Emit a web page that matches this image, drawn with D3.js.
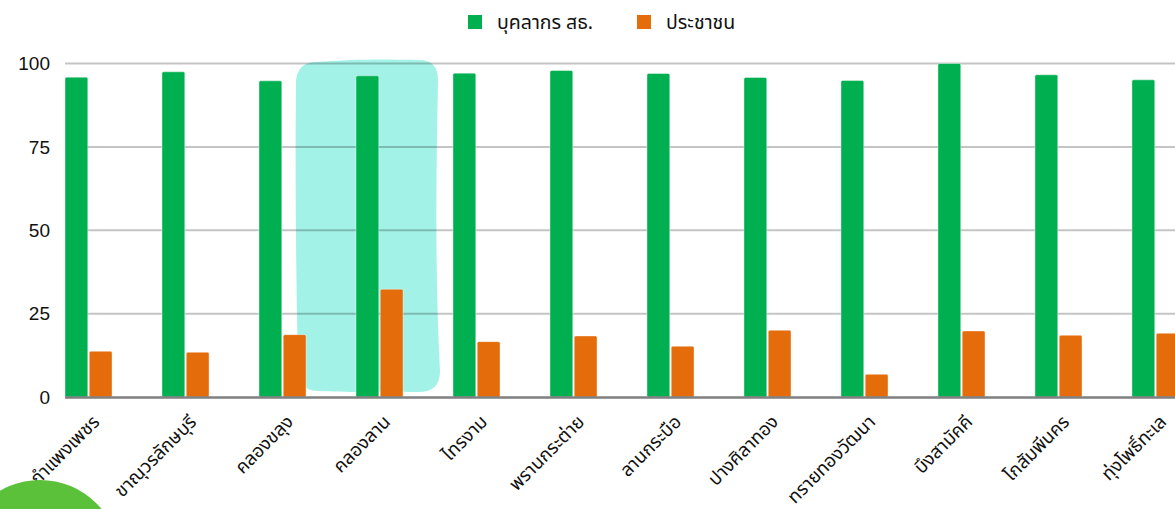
<!DOCTYPE html>
<html>
<head>
<meta charset="utf-8">
<script src="https://cdn.jsdelivr.net/npm/d3@7"></script>
<style>
  body { margin: 0; background: #fff; overflow: hidden; }
  svg { display: block; }
  .tick-label { font-family: "Liberation Sans", Arial, sans-serif; font-size: 19px; fill: #111; }
  .legend-text { font-family: "Noto Sans Thai", "Noto Sans", sans-serif; font-size: 19.5px; fill: #111; }
  .cat-label { font-family: "Noto Sans Thai", "Noto Sans", sans-serif; font-size: 18.5px; fill: #111; }
</style>
</head>
<body>
<svg width="1175" height="509"></svg>
<script>
// ข้อมูล
const categories = ["กำแพงเพชร", "ขาณุวรลักษบุรี", "คลองขลุง", "คลองลาน", "ไทรงาม", "พรานกระต่าย",
  "ลานกระบือ", "ปางศิลาทอง", "ทรายทองวัฒนา", "บึงสามัคคี", "โกสัมพีนคร", "ทุ่งโพธิ์ทะเล"];
const seriesNames = ["บุคลากร สธ.", "ประชาชน"];
const staffValues = [95.9, 97.5, 94.8, 96.3, 97.1, 97.9, 97.0, 95.8, 94.9, 100, 96.6, 95.1];
const peopleValues = [13.7, 13.4, 18.7, 32.3, 16.6, 18.3, 15.2, 20.0, 6.8, 19.8, 18.5, 19.1];
const yTicks = [0, 25, 50, 75, 100];
const colors = ["#00b050", "#e46c0a"];

const svg = d3.select("svg");
const width = +svg.attr("width");
const height = +svg.attr("height");

const x = d3.scaleBand()
    .domain(categories)
    .range([65, 1179])
    .paddingInner(0.515)
    .paddingOuter(0);

const xs = d3.scaleBand()
    .domain(seriesNames)
    .range([0, x.bandwidth()])
    .paddingInner(0.06);

const y = d3.scaleLinear()
    .domain([0, 100])
    .range([397, 63.5]);

// กรอบไฮไลต์ (วาดด้วยมือ)
const hx = x("คลองลาน");
const hl = hx - 59, hr = hx + 83, ht = 60, hb = 393;
const hp = d3.path();
hp.moveTo(hl + 18, ht + 2);
hp.bezierCurveTo(hl + 60, ht - 1, hr - 60, ht - 1, hr - 20, ht);
hp.quadraticCurveTo(hr, ht, hr - 1, ht + 22);
hp.bezierCurveTo(hr - 3, ht + 120, hr - 4, hb - 120, hr + 1, hb - 22);
hp.quadraticCurveTo(hr + 1, hb, hr - 22, hb - 1);
hp.bezierCurveTo(hr - 70, hb - 2, hl + 70, hb, hl + 20, hb - 2);
hp.quadraticCurveTo(hl + 1, hb - 3, hl + 1, hb - 25);
hp.bezierCurveTo(hl - 1, hb - 120, hl - 2, ht + 120, hl - 1, ht + 22);
hp.quadraticCurveTo(hl, ht + 3, hl + 18, ht + 2);
hp.closePath();
svg.append("path")
    .attr("d", hp.toString())
    .attr("fill", "#a3f2e8");

// เส้นกริด
svg.append("g")
    .selectAll("line")
    .data(yTicks.filter(d => d > 0))
    .join("line")
    .attr("x1", 65)
    .attr("x2", width)
    .attr("y1", d => y(d))
    .attr("y2", d => y(d))
    .attr("stroke", "rgba(0,0,0,0.23)")
    .attr("stroke-width", 2);

// ป้ายแกน y
svg.append("g")
    .selectAll("text")
    .data(yTicks)
    .join("text")
    .attr("class", "tick-label")
    .attr("x", 50)
    .attr("y", d => y(d))
    .attr("dy", "0.35em")
    .attr("text-anchor", "end")
    .text(d => d);

// แท่ง
const series = [staffValues, peopleValues];
const groups = svg.append("g")
    .selectAll("g")
    .data(categories)
    .join("g")
    .attr("transform", d => `translate(${x(d)},0)`);

groups.selectAll("rect")
    .data((d, i) => seriesNames.map((s, j) => ({ s, v: series[j][i], j })))
    .join("rect")
    .attr("x", d => xs(d.s))
    .attr("y", d => y(d.v))
    .attr("width", xs.bandwidth())
    .attr("height", d => y(0) - y(d.v))
    .attr("rx", 1.5)
    .attr("fill", d => colors[d.j])
    .attr("stroke", "rgba(255,255,255,0.5)")
    .attr("stroke-width", 0.8);

// แกน x
svg.append("line")
    .attr("x1", 65)
    .attr("x2", width)
    .attr("y1", y(0) + 0.5)
    .attr("y2", y(0) + 0.5)
    .attr("stroke", "#7f7f7f")
    .attr("stroke-width", 2.5);

// ป้ายหมวดหมู่
svg.append("g")
    .selectAll("text")
    .data(categories)
    .join("text")
    .attr("class", "cat-label")
    .attr("text-anchor", "end")
    .attr("transform", d => `translate(${x(d) + x.bandwidth() / 2 + 12},${423}) rotate(-45)`)
    .text(d => d);

// คำอธิบาย
const legend = svg.append("g").attr("transform", "translate(468,14)");
const legendX = [0, 169];
seriesNames.forEach((name, i) => {
    legend.append("rect")
        .attr("x", legendX[i])
        .attr("y", 1)
        .attr("width", 14)
        .attr("height", 14)
        .attr("fill", colors[i]);
    legend.append("text")
        .attr("class", "legend-text")
        .attr("x", legendX[i] + 29)
        .attr("y", 8)
        .attr("dy", "0.35em")
        .text(name);
});

// วงกลมมุมซ้ายล่าง
svg.append("circle")
    .attr("cx", 40)
    .attr("cy", 560)
    .attr("r", 80)
    .attr("fill", "#5bc13b");
</script>
</body>
</html>
